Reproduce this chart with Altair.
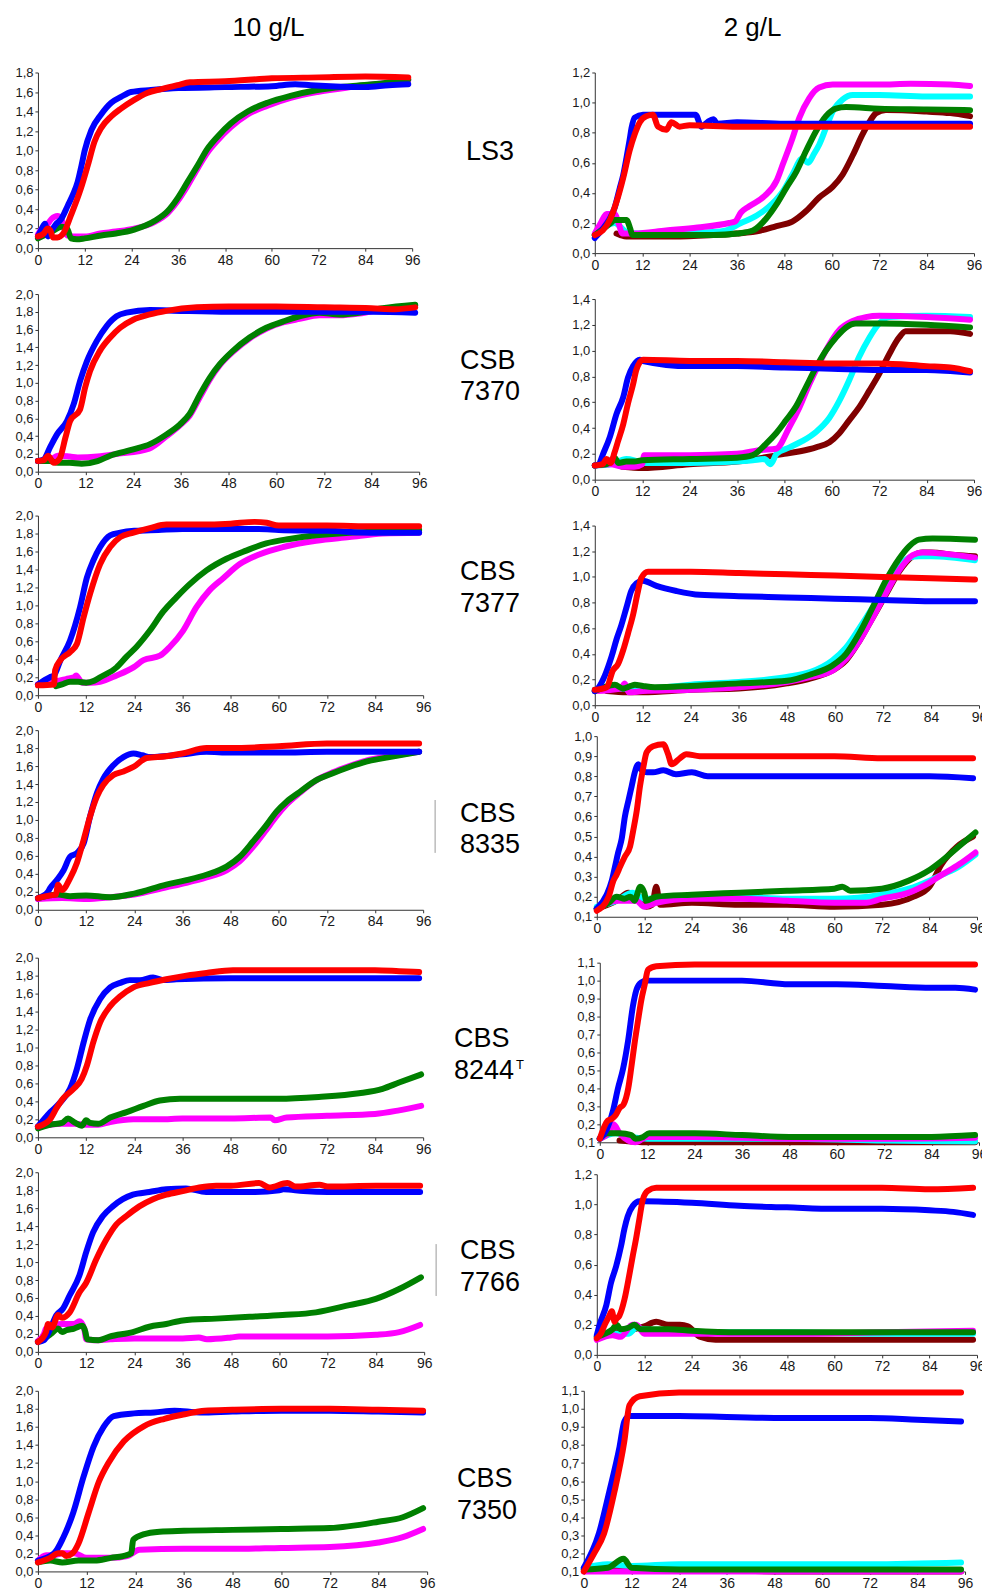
import altair as alt
import pandas as pd

FONT = "Liberation Sans"
COL = {"blue": "#0000ff", "red": "#ff0000", "magenta": "#ff00ff",
       "green": "#008000", "cyan": "#00ffff", "maroon": "#800000"}

COLUMN_TITLES = ["10 g/L", "2 g/L"]
STRAINS = [["LS3"], ["CSB", "7370"], ["CBS", "7377"], ["CBS", "8335"],
           ["CBS", "8244"], ["CBS", "7766"], ["CBS", "7350"]]

X_TICKS = [0, 12, 24, 36, 48, 60, 72, 84, 96]
Y_0_18 = [0.0, 0.2, 0.4, 0.6, 0.8, 1.0, 1.2, 1.4, 1.6, 1.8]
Y_0_20 = [0.0, 0.2, 0.4, 0.6, 0.8, 1.0, 1.2, 1.4, 1.6, 1.8, 2.0]
Y_0_12 = [0.0, 0.2, 0.4, 0.6, 0.8, 1.0, 1.2]
Y_0_14 = [0.0, 0.2, 0.4, 0.6, 0.8, 1.0, 1.2, 1.4]
Y_01_10 = [0.1, 0.2, 0.3, 0.4, 0.5, 0.6, 0.7, 0.8, 0.9, 1.0]
Y_01_11 = [0.1, 0.2, 0.3, 0.4, 0.5, 0.6, 0.7, 0.8, 0.9, 1.0, 1.1]

# ---------------- LS3, 10 g/L ----------------
LS3_10_blue = [(0,0.12),(1,0.2),(1.8,0.25),(2.6,0.12),(3.5,0.18),(4.5,0.24),(6,0.3),(7.7,0.44),(9,0.55),(10.2,0.68),(11.2,0.85),(12,1.0),(13.7,1.21),(16.2,1.37),(18.8,1.49),(21.3,1.55),(23.9,1.6),(29,1.62),(36,1.64),(48,1.65),(60,1.66),(66,1.68),(70,1.67),(75,1.66),(84,1.65),(90,1.67),(95,1.68)]
LS3_10_red = [(0,0.12),(1.5,0.15),(2.5,0.2),(3.2,0.18),(3.8,0.11),(5,0.11),(6.5,0.15),(8.5,0.34),(11,0.61),(12.8,0.85),(14.5,1.09),(16.2,1.23),(18.8,1.35),(21.3,1.43),(24.7,1.52),(28,1.59),(31.6,1.63),(35.8,1.67),(39,1.7),(48,1.71),(60,1.74),(72,1.75),(84,1.76),(95,1.75)]
LS3_10_magenta = [(0,0.14),(1,0.2),(2,0.22),(3.5,0.3),(5,0.33),(6,0.3),(7.5,0.13),(9,0.12),(12,0.12),(16,0.15),(20,0.17),(24.7,0.2),(30,0.27),(33.3,0.36),(35.8,0.48),(38.4,0.64),(41,0.82),(43.5,0.98),(46,1.1),(49.5,1.24),(53.8,1.37),(58.9,1.46),(64.8,1.54),(71.7,1.6),(80.2,1.65),(88.7,1.69),(95,1.72)]
LS3_10_green = [(0,0.1),(2,0.14),(4,0.18),(6,0.22),(7.5,0.2),(8.5,0.1),(10,0.09),(12,0.1),(16.2,0.13),(20,0.15),(24.7,0.19),(30,0.28),(33.3,0.38),(35.8,0.51),(38.4,0.68),(41,0.85),(43.5,1.02),(46,1.14),(49.5,1.28),(53.8,1.4),(58.9,1.49),(64.8,1.56),(71.7,1.62),(80.2,1.66),(88.7,1.69),(95,1.73)]

# ---------------- LS3, 2 g/L ----------------
LS3_2_blue = [(0,0.1),(2,0.16),(3.8,0.23),(5,0.3),(6.3,0.43),(7.2,0.52),(8,0.63),(8.8,0.75),(9.3,0.83),(10.1,0.9),(12.2,0.92),(18,0.92),(24,0.92),(25.5,0.92),(27,0.84),(28.5,0.87),(30,0.89),(31,0.86),(36,0.87),(48,0.86),(60,0.86),(72,0.86),(84,0.86),(95,0.86)]
LS3_2_red = [(0,0.12),(2,0.15),(3.8,0.22),(5.5,0.34),(7.2,0.5),(8.8,0.68),(10.1,0.79),(11.4,0.87),(13,0.91),(14.7,0.92),(16,0.84),(18.1,0.82),(19.4,0.87),(21.5,0.84),(24,0.85),(36,0.84),(48,0.84),(60,0.84),(72,0.84),(84,0.84),(95,0.84)]
LS3_2_magenta = [(0,0.13),(1.5,0.2),(3,0.26),(5,0.26),(6,0.2),(7,0.13),(10,0.13),(18,0.15),(26,0.17),(34,0.2),(35.5,0.21),(37,0.27),(39,0.31),(43,0.38),(46,0.48),(47.6,0.59),(50,0.76),(51.8,0.9),(54.3,1.03),(56.8,1.1),(60.2,1.12),(72,1.12),(80,1.125),(90,1.12),(95,1.11)]
LS3_2_cyan = [(0,0.12),(5,0.2),(8,0.14),(10,0.13),(20,0.13),(30,0.14),(33,0.15),(37,0.2),(41,0.25),(45,0.33),(47.6,0.41),(50,0.52),(52.6,0.63),(54,0.6),(55.5,0.66),(56.8,0.72),(58.5,0.83),(60.2,0.94),(62.7,1.02),(65.3,1.05),(72,1.05),(84,1.04),(95,1.04)]
LS3_2_green = [(0,0.12),(2,0.16),(4,0.2),(5,0.22),(8,0.22),(9,0.16),(9.5,0.12),(20,0.12),(30,0.12),(36,0.13),(40,0.15),(43.4,0.23),(45.9,0.32),(48.4,0.43),(51,0.54),(53.5,0.68),(56,0.81),(58.5,0.91),(61,0.96),(63.6,0.97),(72,0.96),(84,0.955),(95,0.95)]
LS3_2_maroon = [(5.5,0.13),(6.5,0.12),(8,0.11),(20,0.11),(30,0.12),(36,0.13),(42,0.15),(46,0.18),(50,0.21),(53.5,0.28),(56.8,0.37),(60.2,0.44),(62.7,0.52),(65.3,0.65),(67.8,0.79),(69.5,0.87),(71.2,0.93),(73.7,0.95),(84,0.94),(90,0.93),(95,0.91)]

# ---------------- CSB 7370, 10 g/L ----------------
C7370_10_blue = [(0,0.12),(1.5,0.14),(3,0.27),(4.8,0.42),(7.3,0.57),(9,0.76),(10.6,1.02),(12.3,1.24),(14.8,1.47),(17.3,1.64),(19.8,1.75),(22.3,1.79),(28.2,1.82),(36,1.81),(48,1.8),(60,1.8),(72,1.8),(84,1.8),(95,1.79)]
C7370_10_red = [(0,0.12),(1.5,0.13),(2.5,0.18),(4,0.1),(5.5,0.15),(6.9,0.38),(8.1,0.57),(10.6,0.7),(11.9,0.95),(13.1,1.13),(15.6,1.36),(18.2,1.51),(20.7,1.62),(24,1.71),(28.2,1.77),(32.4,1.81),(40,1.85),(48,1.86),(60,1.86),(72,1.85),(84,1.84),(90,1.83),(95,1.85)]
C7370_10_magenta = [(0,0.12),(3,0.13),(5,0.18),(8,0.17),(10,0.16),(15,0.17),(20,0.2),(28,0.26),(32.4,0.4),(35.7,0.52),(38.2,0.63),(40.8,0.84),(43.3,1.04),(45.8,1.2),(49.1,1.35),(53.3,1.5),(57.5,1.61),(61.7,1.68),(65.9,1.72),(70.9,1.76),(75.9,1.76),(80.9,1.78),(86.8,1.83),(95,1.87)]
C7370_10_green = [(0,0.12),(3,0.12),(5,0.1),(8,0.1),(11,0.09),(15,0.12),(18.2,0.18),(24,0.25),(28.2,0.31),(32.4,0.42),(35.7,0.53),(38.2,0.65),(40.8,0.87),(43.3,1.06),(45.8,1.21),(49.1,1.36),(53.3,1.51),(57.5,1.62),(61.7,1.69),(65.9,1.75),(70.9,1.79),(75.9,1.77),(80.9,1.79),(86.8,1.84),(95,1.88)]

# ---------------- CSB 7370, 2 g/L ----------------
C7370_2_blue = [(0,0.11),(1,0.12),(2.1,0.2),(3.8,0.33),(5.5,0.51),(7.2,0.64),(8.4,0.79),(9.7,0.88),(11.4,0.93),(12.2,0.92),(24,0.88),(36,0.88),(48,0.87),(60,0.86),(72,0.85),(84,0.85),(95,0.83)]
C7370_2_red = [(0,0.11),(2,0.12),(3,0.16),(4,0.13),(5,0.21),(5.9,0.3),(7.2,0.43),(8.4,0.59),(9.7,0.74),(10.5,0.85),(12.2,0.93),(24,0.92),(36,0.92),(48,0.91),(60,0.9),(72,0.9),(84,0.88),(90,0.87),(95,0.84)]
C7370_2_magenta = [(0,0.11),(4,0.12),(7,0.1),(10,0.1),(12,0.12),(12.5,0.19),(24,0.19),(36,0.2),(42,0.23),(45.9,0.24),(49.3,0.41),(51.8,0.56),(54.3,0.74),(56.8,0.9),(59.4,1.05),(61.9,1.16),(65.3,1.23),(68.6,1.26),(72,1.27),(84,1.26),(95,1.24)]
C7370_2_cyan = [(0,0.11),(4,0.12),(8,0.16),(10,0.15),(12,0.13),(24,0.13),(36,0.14),(40,0.15),(43,0.16),(44.5,0.12),(46,0.2),(49.3,0.25),(52.6,0.3),(56,0.37),(59.4,0.48),(61.9,0.61),(64.4,0.77),(66.9,0.95),(69.5,1.1),(72,1.21),(74.5,1.26),(84,1.27),(95,1.26)]
C7370_2_green = [(0,0.11),(3,0.12),(5,0.17),(6,0.13),(8,0.14),(10,0.14),(12,0.15),(24,0.16),(36,0.17),(40,0.19),(43.4,0.28),(45.9,0.36),(48.4,0.46),(51,0.57),(53.5,0.72),(56,0.87),(58.5,1.0),(61,1.1),(63.6,1.18),(66.1,1.21),(72,1.21),(84,1.2),(95,1.18)]
C7370_2_maroon = [(7,0.1),(12,0.09),(24,0.12),(36,0.14),(48,0.2),(52,0.22),(56,0.25),(59.4,0.29),(61.9,0.36),(64.4,0.46),(66.9,0.56),(69.5,0.69),(72,0.82),(74.5,0.97),(77,1.1),(78.7,1.15),(84,1.15),(90,1.15),(95,1.13)]

# ---------------- CBS 7377, 10 g/L ----------------
C7377_10_blue = [(0,0.12),(3,0.2),(4,0.22),(5.6,0.39),(8,0.61),(10.5,0.98),(12.2,1.31),(13.8,1.5),(15.5,1.65),(18,1.78),(20.5,1.81),(24,1.83),(30,1.84),(36,1.85),(48,1.85),(55,1.85),(60,1.84),(72,1.83),(84,1.81),(95,1.81)]
C7377_10_red = [(0,0.11),(4,0.12),(4.3,0.28),(5.6,0.39),(8,0.48),(9.7,0.57),(11.4,0.87),(13,1.13),(15.5,1.46),(18,1.65),(20.5,1.76),(23.8,1.81),(27.9,1.86),(32,1.9),(40,1.9),(48,1.91),(54,1.93),(57,1.92),(60,1.89),(72,1.89),(84,1.88),(95,1.88)]
C7377_10_magenta = [(0,0.12),(5,0.16),(7,0.18),(9,0.2),(9.5,0.22),(11,0.14),(13,0.14),(15.5,0.15),(19.6,0.22),(23.8,0.31),(26.3,0.39),(30.4,0.44),(32.9,0.54),(36.2,0.72),(39.5,0.98),(42.8,1.17),(46.1,1.3),(50.3,1.46),(55.3,1.57),(61.1,1.65),(69.3,1.72),(77.6,1.76),(85.9,1.8),(95,1.81)]
C7377_10_green = [(4.5,0.1),(6,0.12),(8,0.15),(10,0.15),(12,0.14),(14,0.16),(15.5,0.2),(19.6,0.31),(22.1,0.43),(24.6,0.54),(27.9,0.72),(31.2,0.93),(34.5,1.09),(37.9,1.24),(42,1.39),(47,1.52),(51.9,1.61),(56.9,1.69),(62.7,1.74),(69.3,1.78),(77.6,1.81),(85,1.82),(95,1.84)]

# ---------------- CBS 7377, 2 g/L ----------------
C7377_2_blue = [(0,0.11),(1,0.14),(2.5,0.23),(4.2,0.38),(5.4,0.51),(6.6,0.62),(7.9,0.76),(9.1,0.89),(10.4,0.95),(12,0.97),(15.4,0.93),(20.4,0.89),(26.2,0.86),(36,0.85),(48,0.84),(60,0.83),(72,0.82),(84,0.81),(95,0.81)]
C7377_2_red = [(0,0.12),(3,0.14),(4.5,0.27),(5.8,0.32),(7.1,0.43),(8.3,0.56),(9.6,0.71),(10.8,0.89),(11.6,0.99),(13.3,1.04),(24,1.04),(36,1.03),(48,1.02),(60,1.01),(72,1.0),(84,0.99),(95,0.98)]
C7377_2_maroon = [(3,0.11),(8,0.1),(12,0.1),(24,0.12),(36,0.13),(48,0.17),(54,0.21),(59.4,0.27),(62.8,0.35),(66.1,0.5),(69.4,0.68),(72.7,0.86),(76,1.04),(79.4,1.16),(81.9,1.19),(84,1.19),(90,1.17),(95,1.16)]
C7377_2_cyan = [(0,0.12),(5,0.13),(8,0.13),(12,0.13),(24,0.16),(36,0.18),(48,0.22),(54,0.26),(59.4,0.35),(62.8,0.45),(66.1,0.6),(69.4,0.76),(72.7,0.93),(76,1.08),(78.6,1.15),(81,1.16),(84,1.16),(95,1.13)]
C7377_2_magenta = [(0,0.11),(6.5,0.13),(7.5,0.17),(8.5,0.1),(12,0.11),(24,0.12),(36,0.14),(48,0.18),(54,0.22),(59.4,0.27),(62.8,0.36),(66.1,0.5),(69.4,0.68),(72.7,0.87),(76,1.05),(79.4,1.17),(81.9,1.19),(95,1.15)]
C7377_2_green = [(0,0.11),(5,0.16),(7,0.13),(9,0.15),(10,0.16),(12,0.15),(15,0.14),(24,0.15),(36,0.17),(48,0.19),(54,0.24),(59.4,0.31),(62.8,0.4),(66.1,0.56),(69.4,0.76),(72.7,0.97),(76,1.14),(78.6,1.24),(81,1.29),(84.4,1.3),(95,1.29)]

# ---------------- CBS 8335, 10 g/L ----------------
C8335_10_blue = [(0,0.13),(2.5,0.2),(3,0.24),(4.7,0.33),(6.4,0.44),(8,0.59),(9.7,0.63),(11.4,0.74),(13,1.04),(14.7,1.3),(16.3,1.46),(18.8,1.61),(21.3,1.7),(23.8,1.74),(26,1.72),(28,1.7),(36,1.73),(42,1.76),(48,1.75),(60,1.75),(72,1.76),(84,1.76),(95,1.76)]
C8335_10_red = [(0,0.13),(3,0.16),(4.5,0.17),(5,0.28),(6,0.22),(8,0.35),(9.7,0.52),(11.4,0.78),(13,1.04),(14.7,1.26),(16.3,1.39),(18.8,1.5),(21.3,1.54),(23.8,1.59),(27.1,1.69),(32,1.71),(36,1.74),(42,1.8),(48,1.8),(60,1.82),(72,1.85),(84,1.85),(95,1.85)]
C8335_10_magenta = [(0,0.12),(6,0.13),(12,0.12),(18,0.14),(24,0.17),(32,0.25),(37,0.3),(42,0.36),(47,0.44),(50.3,0.54),(53.6,0.7),(56.9,0.89),(59.4,1.04),(61.9,1.17),(65.2,1.3),(69.3,1.44),(73.5,1.53),(77.6,1.6),(81.8,1.66),(87.6,1.71),(95,1.76)]
C8335_10_green = [(0,0.13),(5,0.17),(8,0.15),(12,0.16),(18,0.14),(24,0.18),(32,0.28),(37,0.33),(42,0.39),(47,0.48),(50.3,0.59),(53.6,0.76),(56.9,0.94),(59.4,1.09),(61.9,1.2),(65.2,1.31),(69.3,1.44),(73.5,1.52),(77.6,1.59),(81.8,1.65),(87.6,1.7),(95,1.76)]

# ---------------- CBS 8335, 2 g/L ----------------
C8335_2_blue = [(0,0.14),(2.5,0.21),(3.8,0.28),(4.6,0.35),(5.4,0.42),(6.3,0.49),(7.1,0.6),(8,0.68),(8.8,0.75),(9.6,0.82),(10.5,0.86),(11.3,0.83),(12.6,0.82),(14.2,0.82),(16.8,0.83),(20,0.81),(24,0.82),(28,0.8),(36,0.8),(48,0.8),(60,0.8),(72,0.8),(84,0.8),(95,0.79)]
C8335_2_red = [(0,0.13),(3,0.2),(4.2,0.28),(5,0.31),(5.9,0.35),(7.1,0.4),(8.4,0.45),(9.2,0.53),(10.1,0.63),(10.9,0.75),(11.7,0.84),(12.6,0.92),(14.2,0.95),(16.8,0.96),(18,0.91),(18.9,0.86),(21,0.89),(22.6,0.91),(26,0.9),(36,0.9),(48,0.9),(60,0.9),(72,0.89),(84,0.89),(95,0.89)]
C8335_2_maroon = [(0,0.14),(5,0.18),(8,0.22),(10,0.2),(12.5,0.15),(14,0.16),(15,0.25),(16,0.16),(24,0.17),(36,0.16),(48,0.16),(60,0.15),(72,0.16),(80,0.2),(84,0.25),(87,0.36),(91,0.45),(95,0.5)]
C8335_2_cyan = [(0,0.15),(5,0.18),(9,0.22),(12,0.19),(24,0.2),(36,0.2),(48,0.19),(60,0.19),(72,0.21),(78.8,0.24),(84,0.28),(87.2,0.31),(91.4,0.35),(95.6,0.41)]
C8335_2_magenta = [(0,0.14),(5,0.18),(10,0.18),(12,0.15),(15,0.17),(24,0.19),(36,0.19),(48,0.18),(60,0.17),(68,0.17),(72,0.19),(78.8,0.22),(84,0.27),(87.2,0.31),(91.4,0.36),(95.6,0.42)]
C8335_2_green = [(0,0.14),(3,0.17),(5,0.2),(7,0.19),(8.5,0.2),(9.5,0.18),(11,0.25),(12,0.22),(12.5,0.18),(15,0.2),(24,0.21),(36,0.22),(48,0.23),(60,0.24),(62,0.25),(64,0.23),(72,0.24),(78.8,0.28),(83.8,0.33),(87.2,0.38),(91.4,0.45),(95.6,0.52)]

# ---------------- CBS 8244T, 10 g/L ----------------
C8244_10_blue = [(0,0.12),(3.1,0.28),(5.6,0.39),(8,0.54),(9.7,0.76),(11.4,1.06),(13,1.31),(15.5,1.54),(18,1.67),(20.5,1.72),(22.9,1.75),(25.4,1.75),(28.7,1.78),(31.2,1.75),(34.5,1.76),(48,1.77),(60,1.77),(72,1.77),(84,1.77),(95,1.77)]
C8244_10_red = [(0,0.12),(3,0.2),(4.7,0.33),(6.4,0.44),(8.9,0.54),(10.9,0.65),(12.2,0.8),(13.8,1.06),(15.5,1.28),(18,1.46),(20.5,1.57),(23.8,1.67),(27.9,1.72),(32,1.76),(37,1.8),(42,1.83),(48.6,1.86),(60,1.86),(72,1.86),(84,1.86),(90,1.85),(95,1.84)]
C8244_10_magenta = [(0,0.12),(3,0.14),(6,0.15),(9,0.15),(12,0.14),(15,0.14),(18,0.17),(23.8,0.2),(30.4,0.2),(36,0.21),(48,0.21),(58,0.22),(59,0.19),(62,0.22),(72,0.24),(84,0.26),(90,0.3),(95.5,0.35)]
C8244_10_green = [(0,0.1),(3,0.14),(6,0.16),(7.5,0.21),(9,0.17),(11,0.13),(12,0.19),(13,0.16),(15,0.15),(18,0.22),(22.1,0.28),(26.3,0.35),(30.4,0.41),(35.4,0.43),(48,0.43),(60,0.43),(70,0.45),(80,0.49),(85.9,0.54),(90,0.61),(95.5,0.7)]

# ---------------- CBS 8244T, 2 g/L ----------------
C8244_2_blue = [(0,0.12),(1.7,0.17),(3.4,0.28),(4.6,0.4),(5.9,0.51),(7.2,0.67),(8.4,0.86),(9.3,0.95),(10.5,0.99),(11.8,1.0),(24,1.0),(36,1.0),(48,0.98),(60,0.98),(72,0.97),(84,0.96),(90,0.96),(95,0.95)]
C8244_2_red = [(0,0.12),(2,0.22),(3,0.23),(4,0.25),(5,0.29),(6,0.31),(7.2,0.4),(8,0.52),(8.8,0.65),(9.7,0.78),(10.5,0.89),(11.4,0.98),(12.2,1.06),(14.3,1.08),(24,1.09),(36,1.09),(48,1.09),(60,1.09),(72,1.09),(84,1.09),(95,1.09)]
C8244_2_maroon = [(5,0.11),(12,0.1),(24,0.1),(48,0.1),(72,0.1),(95,0.1)]
C8244_2_cyan = [(0,0.12),(4,0.15),(8,0.13),(12,0.12),(24,0.12),(48,0.12),(72,0.11),(95,0.105)]
C8244_2_magenta = [(0,0.12),(2.5,0.16),(3.5,0.2),(5,0.15),(9,0.1),(12,0.13),(24,0.13),(48,0.12),(72,0.12),(95,0.125)]
C8244_2_green = [(0,0.12),(2,0.15),(5,0.15),(8,0.14),(9,0.12),(11,0.13),(12.5,0.15),(24,0.15),(36,0.14),(48,0.13),(60,0.13),(72,0.13),(84,0.13),(95,0.14)]

# ---------------- CBS 7766, 10 g/L ----------------
C7766_10_blue = [(0,0.11),(1.5,0.13),(3,0.25),(4.6,0.41),(6.2,0.48),(7.9,0.63),(10.3,0.85),(12,1.11),(13.7,1.33),(16.1,1.51),(18.6,1.62),(21.1,1.7),(23.6,1.75),(27.7,1.78),(31.9,1.81),(36.8,1.82),(41.8,1.78),(48,1.78),(54,1.78),(60,1.8),(61,1.81),(66,1.79),(72,1.78),(84,1.78),(95,1.78)]
C7766_10_red = [(0,0.11),(2,0.22),(2.5,0.31),(3,0.3),(3.5,0.27),(5,0.41),(6,0.38),(7.9,0.44),(10.3,0.66),(12,0.77),(14.5,1.03),(17,1.25),(19.5,1.42),(21.9,1.51),(25.2,1.62),(28.6,1.7),(31.9,1.75),(36,1.79),(40.1,1.83),(44.3,1.85),(48,1.85),(55,1.88),(57.5,1.83),(62,1.88),(64,1.84),(70,1.86),(72,1.84),(84,1.85),(95,1.85)]
C7766_10_magenta = [(0,0.12),(1.5,0.2),(2,0.26),(4,0.3),(6,0.31),(9,0.31),(10.3,0.34),(11.5,0.26),(12,0.14),(14,0.13),(18,0.14),(24,0.15),(36,0.15),(40,0.16),(42,0.14),(48,0.16),(50,0.17),(60,0.17),(72,0.17),(84,0.19),(89.8,0.22),(95,0.3)]
C7766_10_green = [(0,0.11),(2,0.16),(3.5,0.21),(5,0.26),(6,0.22),(7,0.24),(9,0.26),(11,0.29),(11.8,0.22),(12.2,0.14),(15,0.13),(17.8,0.17),(23.6,0.22),(27.7,0.28),(31.9,0.31),(36,0.35),(44.3,0.37),(52.6,0.39),(60.8,0.41),(69.1,0.44),(77.4,0.52),(84,0.59),(89.8,0.7),(95.2,0.83)]

# ---------------- CBS 7766, 2 g/L ----------------
C7766_2_blue = [(0,0.13),(0.7,0.2),(2.4,0.33),(3.6,0.48),(4.9,0.59),(6.1,0.72),(7,0.84),(7.8,0.92),(9.1,0.99),(10.8,1.02),(12,1.02),(24,1.01),(36,0.99),(48,0.98),(60,0.97),(72,0.97),(84,0.96),(90,0.95),(95,0.93)]
C7766_2_red = [(0,0.11),(1,0.14),(2,0.2),(3,0.25),(3.8,0.29),(4.5,0.22),(5,0.24),(5.7,0.26),(7,0.37),(8.2,0.53),(9.1,0.66),(9.9,0.77),(10.8,0.91),(11.6,1.03),(12.9,1.09),(15,1.11),(24,1.11),(48,1.11),(72,1.11),(84,1.1),(95,1.11)]
C7766_2_maroon = [(5,0.15),(8,0.16),(12,0.19),(15,0.22),(18,0.2),(21,0.2),(23,0.19),(26,0.12),(30,0.1),(48,0.1),(72,0.1),(95,0.1)]
C7766_2_cyan = [(0,0.12),(4,0.14),(8,0.14),(10,0.18),(12,0.17),(24,0.15),(48,0.15),(72,0.14),(95,0.14)]
C7766_2_magenta = [(0,0.1),(4,0.13),(6,0.12),(9,0.2),(10,0.2),(12,0.14),(24,0.14),(48,0.14),(72,0.15),(95,0.16)]
C7766_2_green = [(0,0.12),(2,0.14),(4,0.17),(5,0.2),(6,0.17),(8,0.18),(9.5,0.2),(11,0.17),(12,0.17),(18,0.17),(24,0.16),(36,0.15),(48,0.15),(60,0.15),(72,0.15),(84,0.15),(95,0.15)]

# ---------------- CBS 7350, 10 g/L ----------------
C7350_10_blue = [(0,0.12),(4,0.2),(6.2,0.37),(8.7,0.65),(11.2,1.04),(13.7,1.38),(16.2,1.6),(18.7,1.72),(23.7,1.75),(28.7,1.76),(33.7,1.78),(40,1.76),(48,1.77),(60,1.78),(72,1.78),(84,1.77),(95,1.76)]
C7350_10_red = [(0,0.1),(3,0.15),(5,0.2),(6,0.2),(7,0.17),(8.5,0.2),(10,0.31),(12.5,0.65),(15,0.99),(17.5,1.21),(21.2,1.44),(26.2,1.61),(31.2,1.69),(36.2,1.74),(41.1,1.78),(48,1.79),(60,1.8),(72,1.8),(84,1.79),(95,1.78)]
C7350_10_magenta = [(0,0.12),(2,0.18),(4,0.18),(6,0.2),(9,0.2),(12,0.15),(18,0.15),(22,0.17),(25,0.24),(36,0.25),(48,0.25),(60,0.26),(72,0.27),(84,0.32),(90,0.38),(95,0.47)]
C7350_10_green = [(0,0.1),(3,0.12),(6,0.1),(10,0.12),(14,0.12),(18,0.15),(21,0.17),(23,0.2),(23.5,0.35),(26,0.41),(30,0.44),(36,0.45),(48,0.46),(60,0.47),(72,0.48),(84,0.55),(90,0.6),(95,0.7)]

# ---------------- CBS 7350, 2 g/L ----------------
C7350_2_blue = [(0,0.12),(3.8,0.31),(6.4,0.54),(9,0.79),(10.2,0.93),(11.5,0.96),(24,0.96),(48,0.95),(72,0.95),(84,0.94),(95,0.93)]
C7350_2_red = [(0,0.1),(2.6,0.2),(5.1,0.31),(7.7,0.54),(10.2,0.82),(11.5,1.02),(14.1,1.07),(24,1.09),(48,1.09),(72,1.09),(95,1.09)]
C7350_2_maroon = [(0,0.11),(15,0.13),(20,0.13),(24,0.12),(48,0.1),(95,0.1)]
C7350_2_cyan = [(0,0.12),(6,0.14),(12,0.13),(24,0.14),(48,0.14),(72,0.14),(95,0.15)]
C7350_2_magenta = [(0,0.1),(48,0.1),(95,0.1)]
C7350_2_green = [(0,0.11),(6,0.12),(10,0.17),(12,0.12),(24,0.11),(48,0.11),(72,0.11),(95,0.11)]

LABEL_EXPR = "replace(format(datum.value, '.1f'), '.', ',')"


def panel(series, ydom, yvals, x0, xend, gw, gh, ytop, texts=(), rules=()):
    xs = alt.Scale(domain=[0, 96], range=[x0, xend], nice=False, zero=False)
    ys = alt.Scale(domain=ydom, range=[gh, ytop], nice=False, zero=False)
    common = dict(title=None, grid=False, labelFont=FONT, labelColor="#1a1a1a",
                  labelPadding=2, tickSize=3, domainColor="#333333",
                  tickColor="#333333", labelFlush=False, labelOverlap=False,
                  domainWidth=1, tickWidth=1)
    xax = alt.Axis(values=X_TICKS, format="d", labelFontSize=14, **common)
    if x0 != 0:
        yax = alt.Axis(values=yvals, labelExpr=LABEL_EXPR, labelFontSize=13,
                       offset=-x0, **common)
    else:
        yax = alt.Axis(values=yvals, labelExpr=LABEL_EXPR, labelFontSize=13, **common)
    layers = []
    for color, pts in series:
        df = pd.DataFrame(pts, columns=["t", "v"])
        layers.append(
            alt.Chart(df).mark_line(color=COL[color], strokeWidth=6,
                                    interpolate="monotone", strokeCap="round",
                                    strokeJoin="round")
            .encode(x=alt.X("t:Q", scale=xs, axis=xax),
                    y=alt.Y("v:Q", scale=ys, axis=yax))
        )
    for txt, x, y, size, align in texts:
        layers.append(
            alt.Chart(pd.DataFrame({"s": [txt]}))
            .mark_text(font=FONT, fontSize=size, align=align,
                       baseline="alphabetic", color="#000000")
            .encode(text="s:N", x=alt.value(x), y=alt.value(y))
        )
    for x, y1, y2 in rules:
        layers.append(
            alt.Chart(pd.DataFrame({"r": [0]}))
            .mark_rule(color="#9a9a9a", strokeWidth=1)
            .encode(x=alt.value(x), y=alt.value(y1), y2=alt.value(y2))
        )
    return alt.layer(*layers).properties(width=gw, height=gh)


LW, RW = 390, 385
LBL = 27
LX = 423

cells = [
    panel([("magenta", LS3_10_magenta), ("green", LS3_10_green), ("blue", LS3_10_blue), ("red", LS3_10_red)],
          [0, 1.8], Y_0_18, 0, 375, LW, 176, 0,
          texts=[(COLUMN_TITLES[0], 231, -37, 26, "center"), (STRAINS[0][0], 429, 88, LBL, "left")]),
    panel([("maroon", LS3_2_maroon), ("cyan", LS3_2_cyan), ("magenta", LS3_2_magenta), ("green", LS3_2_green), ("blue", LS3_2_blue), ("red", LS3_2_red)],
          [0, 1.2], Y_0_12, 0, 380, RW, 181, 0,
          texts=[(COLUMN_TITLES[1], 158, -37, 26, "center")]),

    panel([("magenta", C7370_10_magenta), ("green", C7370_10_green), ("blue", C7370_10_blue), ("red", C7370_10_red)],
          [0, 2.0], Y_0_20, 0, 382, LW, 199, 21,
          texts=[(STRAINS[1][0], LX, 96, LBL, "left"), (STRAINS[1][1], LX, 127, LBL, "left")]),
    panel([("maroon", C7370_2_maroon), ("cyan", C7370_2_cyan), ("magenta", C7370_2_magenta), ("green", C7370_2_green), ("blue", C7370_2_blue), ("red", C7370_2_red)],
          [0, 1.4], Y_0_14, 0, 380, RW, 207, 26, rules=[(391, 86, 160)]),

    panel([("magenta", C7377_10_magenta), ("green", C7377_10_green), ("blue", C7377_10_blue), ("red", C7377_10_red)],
          [0, 2.0], Y_0_20, 0, 386, LW, 196, 16,
          texts=[(STRAINS[2][0], LX, 81, LBL, "left"), (STRAINS[2][1], LX, 113, LBL, "left")]),
    panel([("maroon", C7377_2_maroon), ("cyan", C7377_2_cyan), ("magenta", C7377_2_magenta), ("green", C7377_2_green), ("blue", C7377_2_blue), ("red", C7377_2_red)],
          [0, 1.4], Y_0_14, 0, 385, RW, 206, 26),

    panel([("magenta", C8335_10_magenta), ("green", C8335_10_green), ("blue", C8335_10_blue), ("red", C8335_10_red)],
          [0, 2.0], Y_0_20, 0, 386, LW, 185, 5,
          texts=[(STRAINS[3][0], LX, 97, LBL, "left"), (STRAINS[3][1], LX, 128, LBL, "left")],
          rules=[(398, 75, 128)]),
    panel([("maroon", C8335_2_maroon), ("cyan", C8335_2_cyan), ("magenta", C8335_2_magenta), ("green", C8335_2_green), ("blue", C8335_2_blue), ("red", C8335_2_red)],
          [0.1, 1.0], Y_01_10, 2, 383, RW, 192, 11),

    panel([("magenta", C8244_10_magenta), ("green", C8244_10_green), ("blue", C8244_10_blue), ("red", C8244_10_red)],
          [0, 2.0], Y_0_20, 0, 386, LW, 201, 21,
          texts=[(STRAINS[4][0], 417, 111, LBL, "left"), (STRAINS[4][1], 417, 143, LBL, "left"), ("T", 479, 133, 13, "left")]),
    panel([("maroon", C8244_2_maroon), ("cyan", C8244_2_cyan), ("magenta", C8244_2_magenta), ("green", C8244_2_green), ("blue", C8244_2_blue), ("red", C8244_2_red)],
          [0.1, 1.1], Y_01_11, 5, 385, RW, 206, 26),

    panel([("magenta", C7766_10_magenta), ("green", C7766_10_green), ("blue", C7766_10_blue), ("red", C7766_10_red)],
          [0, 2.0], Y_0_20, 0, 387, LW, 190, 10,
          texts=[(STRAINS[5][0], LX, 97, LBL, "left"), (STRAINS[5][1], LX, 129, LBL, "left")],
          rules=[(399, 82, 134)]),
    panel([("maroon", C7766_2_maroon), ("cyan", C7766_2_cyan), ("magenta", C7766_2_magenta), ("green", C7766_2_green), ("blue", C7766_2_blue), ("red", C7766_2_red)],
          [0, 1.2], Y_0_12, 2, 383, RW, 193, 12),

    panel([("magenta", C7350_10_magenta), ("green", C7350_10_green), ("blue", C7350_10_blue), ("red", C7350_10_red)],
          [0, 2.0], Y_0_20, 0, 390, LW, 197, 16,
          texts=[(STRAINS[6][0], 420, 112, LBL, "left"), (STRAINS[6][1], 420, 144, LBL, "left")]),
    panel([("maroon", C7350_2_maroon), ("cyan", C7350_2_cyan), ("magenta", C7350_2_magenta), ("green", C7350_2_green), ("blue", C7350_2_blue), ("red", C7350_2_red)],
          [0.1, 1.1], Y_01_11, -11, 371, RW, 197, 16),
]

chart = alt.concat(
    *cells, columns=2, spacing={"row": 20, "column": 168},
    bounds="flush", align="each",
).properties(
    padding={"left": 6, "top": 5, "right": -5, "bottom": 0}
).configure_view(stroke=None)

chart.save("out.html", embed_options={"renderer": "svg", "actions": False})
